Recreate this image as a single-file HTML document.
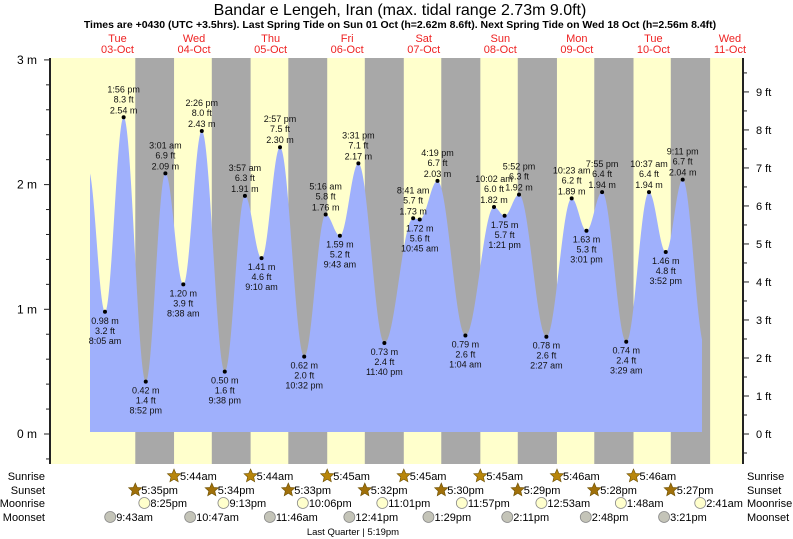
<!DOCTYPE html>
<html><head><meta charset="utf-8"><style>
body{margin:0;background:#fff;}
svg{display:block;font-family:"Liberation Sans",sans-serif;}
</style></head><body>
<svg id="c" width="793" height="539" viewBox="0 0 793 539">
<text x="400" y="15" text-anchor="middle" font-size="16">Bandar e Lengeh, Iran (max. tidal range 2.73m 9.0ft)</text>
<text x="400" y="28" text-anchor="middle" font-size="10.5" font-weight="bold">Times are +0430 (UTC +3.5hrs). Last Spring Tide on Sun 01 Oct (h=2.62m 8.6ft). Next Spring Tide on Wed 18 Oct (h=2.56m 8.4ft)</text>
</svg>
<script>
// ---- data ----
const tideDays = [3,3,3,3,4,4,4,4,5,5,5,5,6,6,6,6,7,7,7,8,8,8,8,9,9,9,9,10,10,10,10,11];
const tideTimes = ["2:50am","8:05am","1:56pm","8:52pm","3:01am","8:38am","2:26pm","9:38pm","3:57am","9:10am","2:57pm","10:32pm","5:16am","9:43am","3:31pm","11:40pm","8:41am","10:45am","4:19pm","1:04am","10:02am","1:21pm","5:52pm","2:27am","10:23am","3:01pm","7:55pm","3:29am","10:37am","3:52pm","9:11pm","4:10am"];
const tideHeights = [2.12,0.98,2.54,0.42,2.09,1.20,2.43,0.50,1.91,1.41,2.30,0.62,1.76,1.59,2.17,0.73,1.73,1.72,2.03,0.79,1.82,1.75,1.92,0.78,1.89,1.63,1.94,0.74,1.94,1.46,2.04,0.70];
const labelFlags = [0,1,1,1,1,1,1,1,1,1,1,1,1,1,1,1,1,1,1,1,1,1,1,1,1,1,1,1,1,1,1,0];
const dayNames = ["Tue","Wed","Thu","Fri","Sat","Sun","Mon","Tue","Wed"];
const dayDates = ["03-Oct","04-Oct","05-Oct","06-Oct","07-Oct","08-Oct","09-Oct","10-Oct","11-Oct"];
const sunriseDays = [4,5,6,7,8,9,10,11];
const sunriseTimes = ["5:44am","5:44am","5:45am","5:45am","5:45am","5:46am","5:46am","5:47am"];
const sunsetDays = [3,4,5,6,7,8,9,10];
const sunsetTimes = ["5:35pm","5:34pm","5:33pm","5:32pm","5:30pm","5:29pm","5:28pm","5:27pm"];
const moonriseDays = [3,4,5,6,7,9,10,11];
const moonriseTimes = ["8:25pm","9:13pm","10:06pm","11:01pm","11:57pm","12:53am","1:48am","2:41am"];
const moonsetDays = [3,4,5,6,7,8,9,10];
const moonsetTimes = ["9:43am","10:47am","11:46am","12:41pm","1:29pm","2:11pm","2:48pm","3:21pm"];
const mTicks = [0,1,2,3];
const ftTicks = [0,1,2,3,4,5,6,7,8,9];

// ---- scales ----
const L=50,R=743,T=58,B=464,FILL0=90,FILL1=702;
const PXH=3.19, X0=79.2;
function hrs(d,s){const m=s.match(/(\d+):(\d+)(am|pm)/);let h=+m[1]%12;if(m[3]=="pm")h+=12;return (d-3)*24+h+ +m[2]/60;}
function x(d,s){return X0+hrs(d,s)*PXH;}
function xh(h){return X0+h*PXH;}
function y(m){return 434-m*124.7;}
function yft(f){return y(f*0.3048);}
const NS="http://www.w3.org/2000/svg";
const svg=document.getElementById('c');
function el(t,a,p){const e=document.createElementNS(NS,t);for(const k in a)e.setAttribute(k,a[k]);(p||svg).appendChild(e);return e;}
function txt(s,a,p){const e=el('text',a,p);e.textContent=s;return e;}

// background
let bg=el('rect',{x:L,y:T,width:R-L,height:B-T,fill:'#ffffcc'});


for(let i=0;i<sunsetDays.length;i++){
  const x1=x(sunsetDays[i],sunsetTimes[i]), x2=Math.min(R,x(sunriseDays[i],sunriseTimes[i]));
  const r=el('rect',{x:x1,y:T,width:x2-x1,height:B-T,fill:'#a8a8a8'});
  
  
}
// tide curve
const H=tideDays.map((d,i)=>hrs(d,tideTimes[i]));
function val(h){for(let i=0;i<H.length-1;i++){if(h>=H[i]&&h<=H[i+1]){const f=(h-H[i])/(H[i+1]-H[i]);const w=(1-Math.cos(Math.PI*f))/2;return tideHeights[i]+(tideHeights[i+1]-tideHeights[i])*w;}}return tideHeights[0];}
let d=`M${FILL0},432`;
for(let px=FILL0;px<=FILL1;px+=0.5){d+=` L${px},${y(val((px-X0)/PXH)).toFixed(2)}`;}
d+=` L${FILL1},432 Z`;
const area=el('path',{d:d,fill:'#9fb0fc'});



// extrema labels
for(let i=0;i<H.length;i++){
  if(!labelFlags[i])continue;
  const px=xh(H[i]),py=y(tideHeights[i]);
  const hi=(i>0&&tideHeights[i]>tideHeights[i-1]);
  const g=el('g',{'font-size':'9','text-anchor':'middle',fill:'#111'});
  
  
  el('circle',{cx:px,cy:py,r:2,fill:'#000'},g);
  const m=tideHeights[i].toFixed(2)+' m', ft=(tideHeights[i]*3.2808).toFixed(1)+' ft';
  const t=tideTimes[i].replace(/(am|pm)/,' $1');
  if(hi){txt(t,{x:px,y:py-25},g);txt(ft,{x:px,y:py-15},g);txt(m,{x:px,y:py-4},g);}
  else{txt(m,{x:px,y:py+12},g);txt(ft,{x:px,y:py+22},g);txt(t,{x:px,y:py+32},g);}
}

// axes
const ax=el('g',{stroke:'#222','stroke-width':1});


el('line',{x1:L,y1:T,x2:L,y2:B,'stroke-width':2},ax);
el('line',{x1:R,y1:T,x2:R,y2:B,'stroke-width':2},ax);
for(let v=-0.2;v<=3.01;v+=0.2){const yy=y(v);if(yy<T||yy>B)continue;const major=Math.abs(v-Math.round(v))<0.01;el('line',{x1:L-(major?6:4),y1:yy,x2:L,y2:yy},ax);}
for(let v=-0.5;v<=10;v+=0.5){const yy=yft(v);if(yy<T||yy>B)continue;const major=Math.abs(v-Math.round(v))<0.01;el('line',{x1:R,y1:yy,x2:R+(major?6:4),y2:yy},ax);}
mTicks.forEach(v=>{const t=txt(v+' m',{x:37,y:y(v)+4,'font-size':12,'text-anchor':'end'});

});
ftTicks.forEach(v=>{const t=txt(v+' ft',{x:756,y:yft(v)+4,'font-size':11});

});
// day labels
dayNames.forEach((n,i)=>{const cx=xh(i*24+12);
const g=el('g',{'font-size':11,'text-anchor':'middle',fill:'#ee2222'});


txt(n,{x:cx,y:42},g);txt(dayDates[i],{x:cx,y:53},g);});

// astro rows
function star(cx,cy,fill){const p=[];for(let k=0;k<10;k++){const r=k%2?3.2:7,a=-Math.PI/2+k*Math.PI/5;p.push((cx+r*Math.cos(a)).toFixed(1)+','+(cy+r*Math.sin(a)).toFixed(1));}return el('polygon',{points:p.join(' '),fill:fill,stroke:'#6b4e00','stroke-width':0.6});}
function row(days,times,yy,kind){
  days.forEach((dd,i)=>{const px=x(dd,times[i]);if(px>705)return;
    const g=el('g',{'font-size':11});
    
    
    if(kind=='sunrise'||kind=='sunset'){const s=star(px,yy-4,kind=='sunrise'?'#b8860b':'#a0700a');g.appendChild(s);}
    else el('circle',{cx:px,cy:yy-4,r:5.5,fill:kind=='moonrise'?'#ffffcc':'#c4c4b8',stroke:'#888','stroke-width':0.8},g);
    txt(times[i],{x:px+6,y:yy},g);});
}
row(sunriseDays,sunriseTimes,480,'sunrise');
row(sunsetDays,sunsetTimes,494,'sunset');
row(moonriseDays,moonriseTimes,507,'moonrise');
row(moonsetDays,moonsetTimes,521,'moonset');
[["Sunrise",480],["Sunset",494],["Moonrise",507],["Moonset",521]].forEach(([n,yy])=>{
  const a=txt(n,{x:45,y:yy,'font-size':11,'text-anchor':'end'});
  
  
  const b=txt(n,{x:747,y:yy,'font-size':11});
  
  
});
const lq=txt('Last Quarter | 5:19pm',{x:x(6,'5:19pm')+35,y:535,'font-size':9.5,'text-anchor':'end'});


</script>
</body></html>
